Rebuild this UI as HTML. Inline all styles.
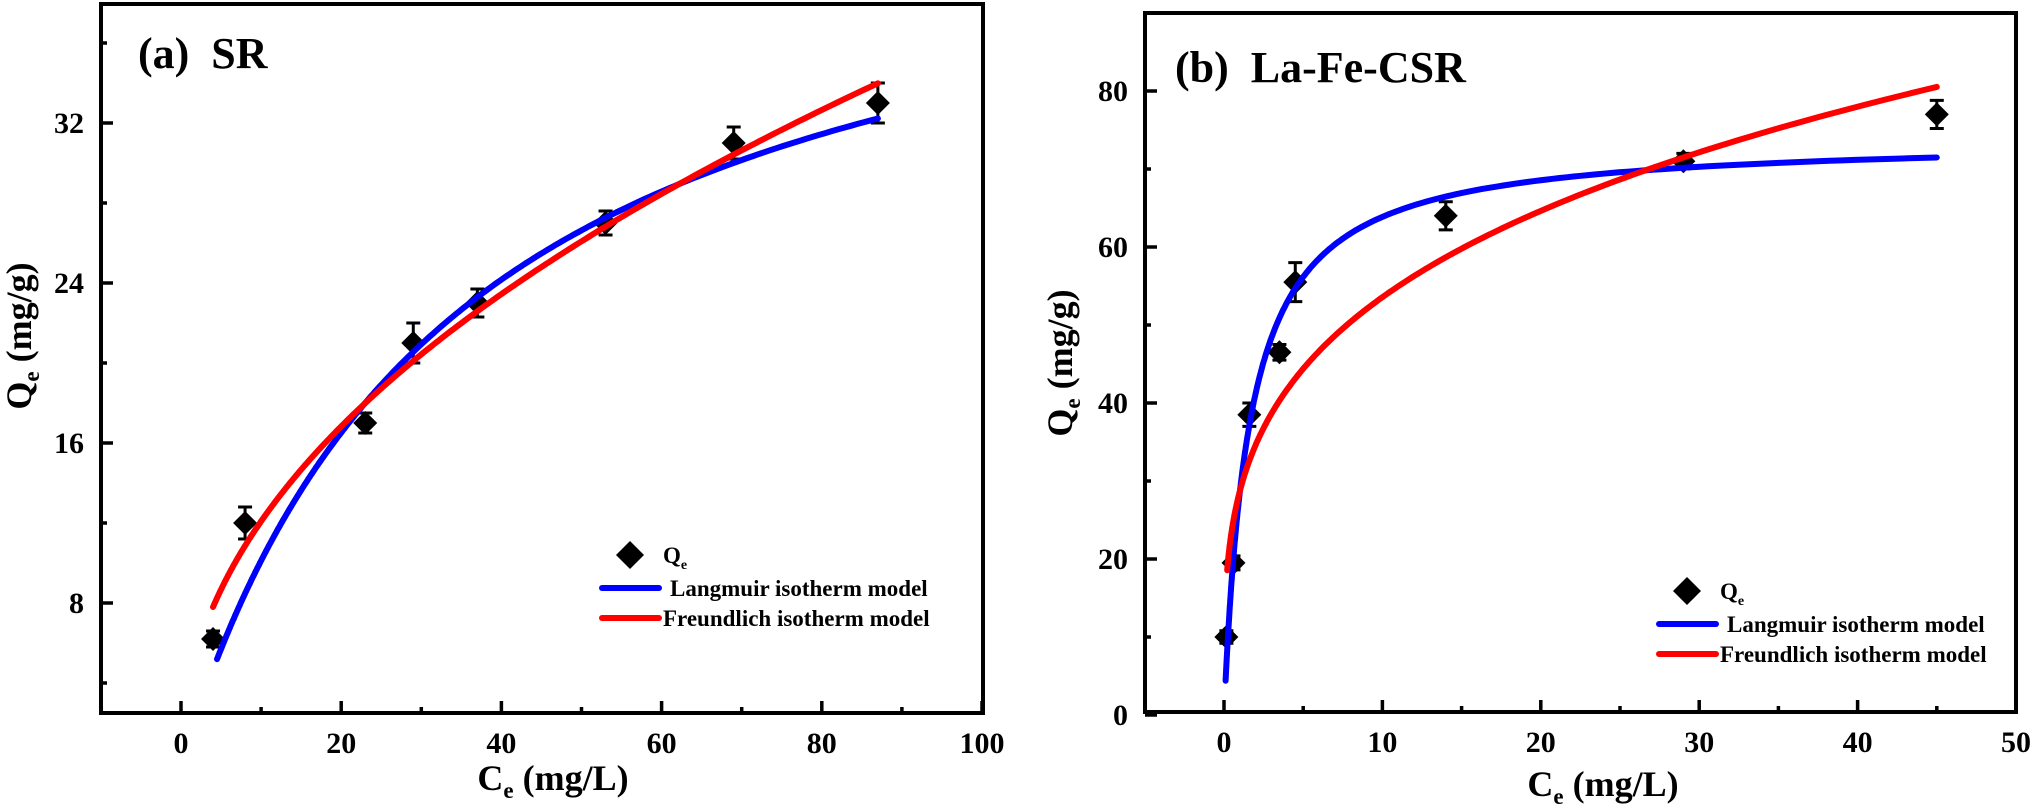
<!DOCTYPE html>
<html><head><meta charset="utf-8"><style>
body{margin:0;background:#fff}
svg{display:block}
text{font-family:"Liberation Serif",serif;font-weight:bold;fill:#000;white-space:pre}
</style></head><body>
<svg id="s" width="2032" height="805" xmlns="http://www.w3.org/2000/svg">
<g id="g"></g>
</svg>
<script>
const NS="http://www.w3.org/2000/svg";const g=document.getElementById('g');
function el(t,a,txt){const e=document.createElementNS(NS,t);for(const k in a)e.setAttribute(k,a[k]);if(txt!==undefined)e.innerHTML=txt;g.appendChild(e);return e;}
function plot(P){
 const X=v=>P.x0+(v-P.xa)*P.xs, Y=v=>P.y0-(v-P.ya)*P.ys;
 function curve(f,c0,c1,col){let d='';const n=300;for(let i=0;i<=n;i++){const c=c0*Math.pow(c1/c0,i/n);d+=(i?'L':'M')+X(c).toFixed(1)+','+Y(f(c)).toFixed(1);}el('path',{d:d,fill:'none',stroke:col,'stroke-width':6,'stroke-linecap':'round'});}
 P.pts.forEach(p=>{const x=X(p[0]),y=Y(p[1]),e=p[2]*P.ys;
  el('path',{d:`M${x},${y-e}V${y+e}M${x-7},${y-e}H${x+7}M${x-7},${y+e}H${x+7}`,stroke:'#000','stroke-width':3,fill:'none'});
  el('path',{d:`M${x},${y-12}L${x+12},${y}L${x},${y+12}L${x-12},${y}Z`,fill:'#000'});});
 curve(P.L,P.Lr[0],P.Lr[1],'#0000ff');
 curve(P.F,P.Fr[0],P.Fr[1],'#ff0000');
 el('rect',{x:P.l,y:P.t,width:P.r-P.l,height:P.b-P.t,fill:'none',stroke:'#000','stroke-width':4});
 P.xt.forEach(v=>{const x=X(v);el('line',{x1:x,x2:x,y1:P.b,y2:P.b-12,stroke:'#000','stroke-width':3.5});el('text',{x:x,y:P.b+40,'text-anchor':'middle','font-size':30},v);});
 P.xm.forEach(v=>{const x=X(v);el('line',{x1:x,x2:x,y1:P.b,y2:P.b-6,stroke:'#000','stroke-width':3.5});});
 P.yt.forEach(v=>{const y=Y(v);el('line',{x1:P.l,x2:P.l+12,y1:y,y2:y,stroke:'#000','stroke-width':3.5});el('text',{x:P.l-17,y:y+10,'text-anchor':'end','font-size':30},v);});
 P.ym.forEach(v=>{const y=Y(v);el('line',{x1:P.l,x2:P.l+6,y1:y,y2:y,stroke:'#000','stroke-width':3.5});});
 el('text',{x:P.tx,y:P.ty,'font-size':44},P.title);
 el('text',{x:P.xlx,y:P.xly,'text-anchor':'middle','font-size':36},'C<tspan font-size="23" dy="8">e</tspan><tspan dy="-8"> (mg/L)</tspan>');
 el('text',{transform:`translate(${P.ylx},${P.yly}) rotate(-90)`,'text-anchor':'middle','font-size':36},'Q<tspan font-size="23" dy="8">e</tspan><tspan dy="-8"> (mg/g)</tspan>');
 const L=P.leg;
 el('path',{d:`M${L[0]+28},${L[1]-14}L${L[0]+42},${L[1]}L${L[0]+28},${L[1]+14}L${L[0]+14},${L[1]}Z`,fill:'#000'});
 el('text',{x:L[0]+61,y:L[1]+8,'font-size':23},'Q<tspan font-size="14" dy="6">e</tspan>');
 el('line',{x1:L[0],x2:L[0]+57,y1:L[1]+33,y2:L[1]+33,stroke:'#0000ff','stroke-width':6,'stroke-linecap':'round'});
 el('text',{x:L[0]+68,y:L[1]+41,'font-size':23},'Langmuir isotherm model');
 el('line',{x1:L[0],x2:L[0]+57,y1:L[1]+63,y2:L[1]+63,stroke:'#ff0000','stroke-width':6,'stroke-linecap':'round'});
 el('text',{x:L[0]+61,y:L[1]+71,'font-size':23},'Freundlich isotherm model');
}
plot({l:101,r:983,t:4,b:713,x0:181,xa:0,xs:8.01,y0:603,ya:8,ys:20,
 pts:[[4,6.2,0.4],[8,12,0.8],[23,17,0.5],[29,21,1.0],[37,23,0.7],[53,27,0.6],[69,31,0.8],[87,33,1.0]],
 L:c=>45*0.029*c/(1+0.029*c),Lr:[4.5,87],F:c=>4.02*Math.pow(c,0.478),Fr:[4,87],
 xt:[0,20,40,60,80,100],xm:[10,30,50,70,90],yt:[8,16,24,32],ym:[4,12,20,28,36],
 title:'(a)  SR',tx:138,ty:68,xlx:553,xly:790,ylx:31,yly:336,leg:[602,555]});
plot({l:1145,r:2016,t:13,b:712,x0:1224,xa:0,xs:15.84,y0:715,ya:0,ys:7.8,
 pts:[[0.15,10,0.8],[0.6,19.5,0.9],[1.6,38.5,1.5],[3.5,46.5,1.0],[4.5,55.5,2.5],[14,64,1.8],[29,71,1.0],[45,77,1.8]],
 L:c=>74*0.63*c/(1+0.63*c),Lr:[0.1,45],F:c=>28.7*Math.pow(c,0.271),Fr:[0.2,45],
 xt:[0,10,20,30,40,50],xm:[5,15,25,35,45],yt:[0,20,40,60,80],ym:[10,30,50,70],
 title:'(b)  La-Fe-CSR',tx:1175,ty:82,xlx:1603,xly:796,ylx:1072,yly:363,leg:[1659,591]});
</script>
</body></html>
